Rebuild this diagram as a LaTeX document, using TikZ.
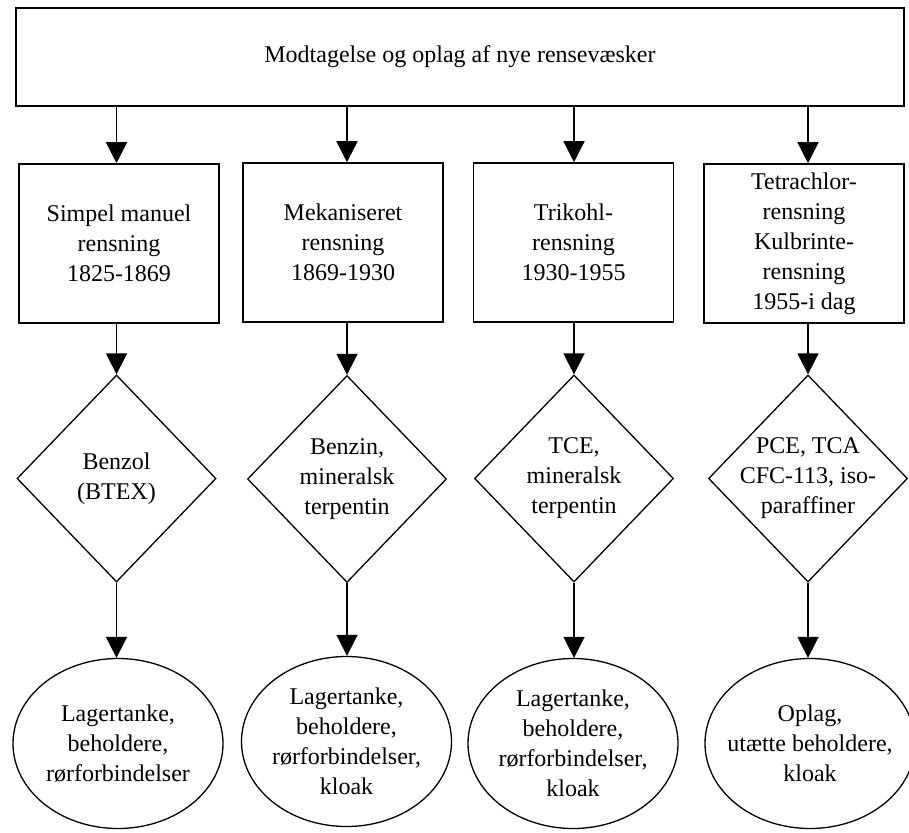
\documentclass[tikz,border=0pt]{standalone}
\usepackage{fontspec}
\setmainfont{Liberation Serif}
\usetikzlibrary{shapes.geometric,arrows.meta}

\begin{document}
\begin{tikzpicture}[x=1pt,y=1pt,
  every node/.style={font=\fontsize{24}{30}\selectfont, align=center},
  stage/.style={draw, line width=1.6pt, minimum width=200pt, minimum height=159pt, inner sep=0pt},
  solvent/.style={draw, diamond, line width=1.3pt, minimum width=199pt, minimum height=207pt, inner sep=0pt},
  source/.style={draw, ellipse, line width=1.3pt, minimum width=210pt, minimum height=170pt, inner sep=0pt},
  flow/.style={line width=1.6pt, -{Triangle[width=21pt,length=21pt]}}]
\useasboundingbox (0,0) rectangle (909,-832);
%receiving
\node [stage, minimum width=888pt, minimum height=98pt] (top) at (460,-57) {Modtagelse og oplag af nye rensevæsker};

%cleaning methods
\node [stage] (b1) at (119,-243.5) {Simpel manuel\\rensning\\1825-1869};
\node [stage] (b2) at (343,-242.5) {Mekaniseret\\rensning\\1869-1930};
\node [stage] (b3) at (573.5,-242.5) {Trikohl-\\rensning\\1930-1955};
\node [stage] (b4) at (804,-243.5) {Tetrachlor-\\rensning\\Kulbrinte-\\rensning\\1955-i dag};

%solvents
\node [solvent, label={center:{Benzol\\(BTEX)}}] (d1) at (116.5,-478.5) {};
\node [solvent, label={center:{Benzin,\\mineralsk\\terpentin}}] (d2) at (347,-479) {};
\node [solvent, label={center:{TCE,\\mineralsk\\terpentin}}] (d3) at (574,-478.5) {};
\node [solvent, label={center:{PCE, TCA\\CFC-113, iso-\\paraffiner}}] (d4) at (808,-478.5) {};

%sources
\node [source, label={center:{Lagertanke,\\beholdere,\\rørforbindelser}}] (e1) at (118,-743.5) {};
\node [source, label={center:{Lagertanke,\\beholdere,\\rørforbindelser,\\kloak}}] (e2) at (346.5,-741.5) {};
\node [source, label={center:{Lagertanke,\\beholdere,\\rørforbindelser,\\kloak}}] (e3) at (573,-743.5) {};
\node [source, label={center:{Oplag,\\utætte beholdere,\\kloak}}] (e4) at (810,-743.5) {};

%top to methods
\draw [flow] (top.south -| d1.north) -- (b1.north -| d1.north);
\draw [flow] (top.south -| d2.north) -- (b2.north -| d2.north);
\draw [flow] (top.south -| d3.north) -- (b3.north -| d3.north);
\draw [flow] (top.south -| d4.north) -- (b4.north -| d4.north);

%methods to solvents
\draw [flow] (b1.south -| d1.north) -- (d1.north);
\draw [flow] (b2.south -| d2.north) -- (d2.north);
\draw [flow] (b3.south -| d3.north) -- (d3.north);
\draw [flow] (b4.south -| d4.north) -- (d4.north);

%solvents to sources
\draw [flow] (d1.south) -- (d1.south |- e1.north);
\draw [flow] (d2.south) -- (d2.south |- e2.north);
\draw [flow] (d3.south) -- (d3.south |- e3.north);
\draw [flow] (d4.south) -- (d4.south |- e4.north);
\end{tikzpicture}
\end{document}
